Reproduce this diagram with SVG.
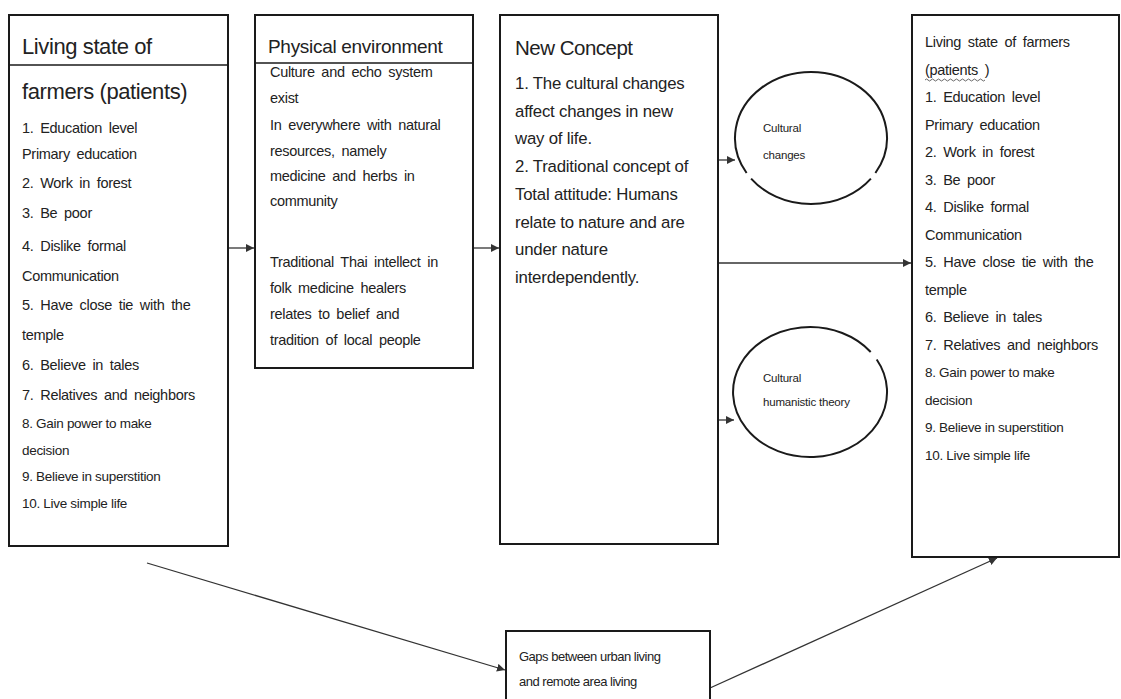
<svg xmlns="http://www.w3.org/2000/svg" width="1121" height="699" viewBox="0 0 1121 699">
<style>
  text { font-family: "Liberation Sans", Arial, sans-serif; fill: #222; }
  .box { fill: #fff; stroke: #1a1a1a; stroke-width: 2; }
  .div { stroke: #1a1a1a; stroke-width: 1.6; }
  .hd22 { font-size: 22px; letter-spacing: -0.4px; }
  .hd19 { font-size: 19px; letter-spacing: -0.3px; }
  .hd20 { font-size: 20.5px; letter-spacing: -0.5px; }
  .b { font-size: 14.5px; word-spacing: 3px; letter-spacing: -0.3px; }
  .s { font-size: 13.5px; letter-spacing: -0.3px; }
  .nc { font-size: 16.8px; letter-spacing: -0.2px; }
  .c { font-size: 11.5px; letter-spacing: -0.2px; }
  .g { font-size: 13px; letter-spacing: -0.5px; }
  .conn { stroke: #333; stroke-width: 1.3; fill: none; }
  .circ { stroke: #1a1a1a; stroke-width: 2; fill: none; }
</style>
<defs>
  <marker id="arr" markerUnits="userSpaceOnUse" markerWidth="9" markerHeight="8" refX="8" refY="4" orient="auto">
    <path d="M0,0 L8,4 L0,8 Z" fill="#333"/>
  </marker>
</defs>
<rect width="1121" height="699" fill="#fff"/>

<g id="connectors">
  <line class="conn" x1="228" y1="248" x2="254" y2="248" marker-end="url(#arr)"/>
  <line class="conn" x1="473" y1="248" x2="499" y2="248" marker-end="url(#arr)"/>
  <line class="conn" x1="718" y1="160" x2="735" y2="160" marker-end="url(#arr)"/>
  <line class="conn" x1="718" y1="263" x2="911" y2="263" marker-end="url(#arr)"/>
  <line class="conn" x1="718" y1="420" x2="734" y2="420" marker-end="url(#arr)"/>
  <line class="conn" x1="147" y1="563" x2="505" y2="670" marker-end="url(#arr)"/>
  <line class="conn" x1="710" y1="688" x2="997" y2="558" marker-end="url(#arr)"/>
</g>

<g id="living-state-left">
  <rect class="box" x="9" y="15" width="219" height="531"/>
  <line class="div" x1="9" y1="65" x2="228" y2="65"/>
  <text class="hd22" x="22" y="54">Living state of</text>
  <text class="hd22" x="22" y="99">farmers (patients)</text>
  <text class="b" x="22" y="133">1. Education level</text>
  <text class="b" x="22" y="159">Primary education</text>
  <text class="b" x="22" y="188">2. Work in forest</text>
  <text class="b" x="22" y="218">3. Be poor</text>
  <text class="b" x="22" y="251">4. Dislike formal</text>
  <text class="b" x="22" y="281">Communication</text>
  <text class="b" x="22" y="310">5. Have close tie with the</text>
  <text class="b" x="22" y="340">temple</text>
  <text class="b" x="22" y="370">6. Believe in tales</text>
  <text class="b" x="22" y="400">7. Relatives and neighbors</text>
  <text class="s" x="22" y="428">8. Gain power to make</text>
  <text class="s" x="22" y="455">decision</text>
  <text class="s" x="22" y="481">9. Believe in superstition</text>
  <text class="s" x="22" y="508">10. Live simple life</text>
</g>

<g id="physical-environment">
  <rect class="box" x="255" y="15" width="218" height="353"/>
  <line class="div" x1="255" y1="63" x2="473" y2="63"/>
  <text class="hd19" x="268" y="53">Physical environment</text>
  <text class="b" x="270" y="77">Culture and echo system</text>
  <text class="b" x="270" y="103">exist</text>
  <text class="b" x="270" y="130">In everywhere with natural</text>
  <text class="b" x="270" y="156">resources, namely</text>
  <text class="b" x="270" y="181">medicine and herbs in</text>
  <text class="b" x="270" y="206">community</text>
  <text class="b" x="270" y="267">Traditional Thai intellect in</text>
  <text class="b" x="270" y="293">folk medicine healers</text>
  <text class="b" x="270" y="319">relates to belief and</text>
  <text class="b" x="270" y="345">tradition of local people</text>
</g>

<g id="new-concept">
  <rect class="box" x="500" y="15" width="218" height="529"/>
  <text class="hd20" x="515" y="55">New Concept</text>
  <text class="nc" x="515" y="89">1. The cultural changes</text>
  <text class="nc" x="515" y="117">affect changes in new</text>
  <text class="nc" x="515" y="144">way of life.</text>
  <text class="nc" x="515" y="172">2. Traditional concept of</text>
  <text class="nc" x="515" y="200">Total attitude: Humans</text>
  <text class="nc" x="515" y="228">relate to nature and are</text>
  <text class="nc" x="515" y="255">under nature</text>
  <text class="nc" x="515" y="283">interdependently.</text>
</g>

<g id="cultural-changes">
  <path class="circ" d="M870.9 178.6 A76 66 0 0 1 751.1 178.6"/>
  <path class="circ" d="M746.6 173.0 A76 66 0 1 1 875.4 173.0"/>
  <text class="c" x="763" y="132">Cultural</text>
  <text class="c" x="763" y="159">changes</text>
</g>

<g id="cultural-humanistic-theory">
  <path class="circ" d="M876.7 359.5 A77 65 0 1 1 870.7 352.0"/>
  <text class="c" x="763" y="382">Cultural</text>
  <text class="c" x="763" y="406">humanistic theory</text>
</g>

<g id="living-state-right">
  <rect class="box" x="912" y="15" width="207" height="542"/>
  <text class="b" x="925" y="47">Living state of farmers</text>
  <text class="b" x="925" y="74.5">(patients )</text>
  <path d="M925 80 q1.5 -2 3 0 t3 0 t3 0 t3 0 t3 0 t3 0 t3 0 t3 0 t3 0 t3 0 t3 0 t3 0 t3 0 t3 0 t3 0 t3 0 t3 0 t3 0 t3 0 t3 0" fill="none" stroke="#444" stroke-width="0.8"/>
  <text class="b" x="925" y="102">1. Education level</text>
  <text class="b" x="925" y="129.5">Primary education</text>
  <text class="b" x="925" y="157">2. Work in forest</text>
  <text class="b" x="925" y="184.5">3. Be poor</text>
  <text class="b" x="925" y="212">4. Dislike formal</text>
  <text class="b" x="925" y="239.5">Communication</text>
  <text class="b" x="925" y="267">5. Have close tie with the</text>
  <text class="b" x="925" y="294.5">temple</text>
  <text class="b" x="925" y="322">6. Believe in tales</text>
  <text class="b" x="925" y="349.5">7. Relatives and neighbors</text>
  <text class="s" x="925" y="377">8. Gain power to make</text>
  <text class="s" x="925" y="404.5">decision</text>
  <text class="s" x="925" y="432">9. Believe in superstition</text>
  <text class="s" x="925" y="459.5">10. Live simple life</text>
</g>

<g id="gaps">
  <rect class="box" x="506" y="631" width="204" height="80"/>
  <text class="g" x="519" y="661">Gaps between urban living</text>
  <text class="g" x="519" y="686">and remote area living</text>
</g>
</svg>
